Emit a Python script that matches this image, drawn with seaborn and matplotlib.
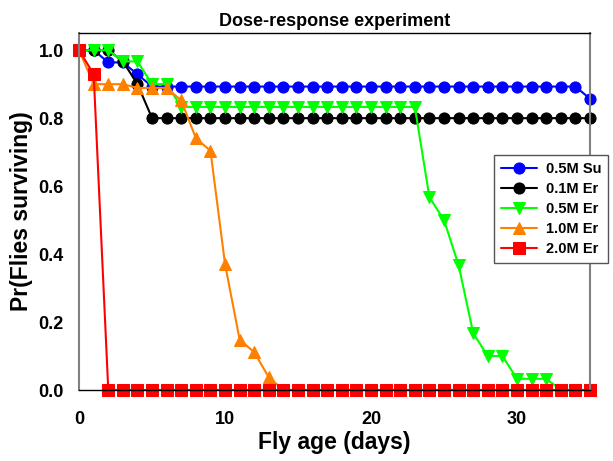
import matplotlib
matplotlib.use("Agg")
import matplotlib.pyplot as plt
import seaborn as sns
import pandas as pd

# survival fractions, one value per day (0..35)
days = list(range(0, 36))
su_05 = [1.0, 1.0, 0.964, 0.964, 0.929] + [0.893] * 30 + [0.857]
er_01 = [1.0, 1.0, 1.0, 0.967, 0.9] + [0.8] * 31
er_05 = ([1.0, 1.0, 1.0, 0.967, 0.967, 0.9, 0.9] + [0.833] * 17
         + [0.567, 0.5, 0.367, 0.167, 0.1, 0.1, 0.033, 0.033, 0.033, 0.0, 0.0, 0.0])
er_10 = ([1.0, 0.9, 0.9, 0.9, 0.889, 0.889, 0.889, 0.852, 0.741, 0.704,
          0.370, 0.148, 0.111, 0.037] + [0.0] * 22)
er_20 = [1.0, 0.929] + [0.0] * 34

labels = ['0.5M Su', '0.1M Er', '0.5M Er', '1.0M Er', '2.0M Er']
series = [su_05, er_01, er_05, er_10, er_20]
colors = ['#0000FF', '#000000', '#00FF00', '#FF8000', '#FF0000']
markers = ['o', 'o', 'v', '^', 's']

rows = []
for lab, vals in zip(labels, series):
    for d, v in zip(days, vals):
        rows.append({'day': d, 'surv': v, 'group': lab})
df = pd.DataFrame(rows)

sns.set_theme(style='white')
plt.rcParams['font.family'] = ['Liberation Sans', 'DejaVu Sans']
plt.rcParams['font.weight'] = 'bold'
plt.rcParams['text.color'] = 'black'
plt.rcParams['axes.labelcolor'] = 'black'

fig = plt.figure(figsize=(6.13, 4.61), dpi=100)
ax = fig.add_axes([0.129, 0.154, 0.8335, 0.774])

sns.lineplot(data=df, x='day', y='surv', hue='group', style='group',
             hue_order=labels, style_order=labels,
             palette=dict(zip(labels, colors)),
             markers=dict(zip(labels, markers)), dashes=False,
             markersize=8, linewidth=1.5, clip_on=False, ax=ax)

for line, c in zip(ax.lines, colors):
    line.set_markeredgecolor(c)
    line.set_markerfacecolor(c)

ax.set_xlim(0, 35)
ax.set_ylim(0, 1.05)
ax.set_xticks([0, 10, 20, 30])
ax.set_yticks([0.0, 0.2, 0.4, 0.6, 0.8, 1.0])
ax.set_yticklabels(['0.0', '0.2', '0.4', '0.6', '0.8', '1.0'])
ax.tick_params(axis='both', labelsize=13, length=8, width=1, colors='black',
               direction='out', pad=3)
ax.tick_params(axis='x', length=0, pad=15)
for t in ax.get_xticklabels() + ax.get_yticklabels():
    t.set_fontweight('bold')

for side in ['left', 'right']:
    ax.spines[side].set_color('#808080')
    ax.spines[side].set_linewidth(1.5)
for side in ['top', 'bottom']:
    ax.spines[side].set_color('black')
    ax.spines[side].set_linewidth(1.0)

ax.set_xlabel('Fly age (days)', fontsize=16.5, fontweight='bold', labelpad=2)
ax.set_ylabel('Pr(Flies surviving)', fontsize=16.5, fontweight='bold', labelpad=4)
ax.set_title('Dose-response experiment', fontsize=13, fontweight='bold', pad=5)

handles, hlabels = ax.get_legend_handles_labels()
for h, c in zip(handles, colors):
    h.set_markeredgecolor(c)
    h.set_markerfacecolor(c)
leg = ax.legend(handles, hlabels, loc='upper left', bbox_to_anchor=(0.812, 0.658),
                borderaxespad=0, fancybox=False, framealpha=1, edgecolor='#555555',
                prop={'size': 10.5, 'weight': 'bold'}, handlelength=2.5,
                labelspacing=0.42, borderpad=0.45, handletextpad=0.6)
leg.get_frame().set_linewidth(1.0)
leg.set_clip_on(False)

fig.savefig('out.png', dpi=100)
